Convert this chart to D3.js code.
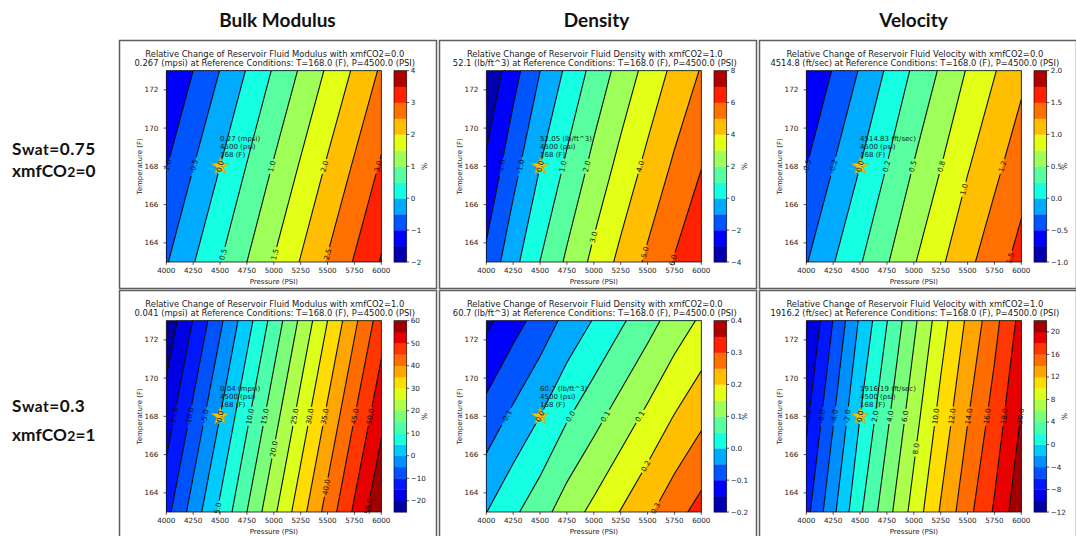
<!DOCTYPE html>
<html>
<head>
<meta charset="utf-8">
<title>Relative change of reservoir fluid properties</title>
<script src="https://cdn.jsdelivr.net/npm/d3@7"></script>
<style>
  html, body { margin: 0; padding: 0; background: #fff; }
  svg { display: block; }
</style>
</head>
<body>
<svg id="fig" width="1076" height="536"></svg>
<script>
// ---- P-T grid on which the relative changes are tabulated ----
const pressureGrid = [4000, 4250, 4500, 4750, 5000, 5250, 5500, 5750, 6000]; // psi
const temperatureGrid = [173, 168, 163];                                      // F, top row first
const pressureTicks = [4000, 4250, 4500, 4750, 5000, 5250, 5500, 5750, 6000];
const temperatureTicks = [164, 166, 168, 170, 172];

const columnTitles = ["Bulk Modulus", "Density", "Velocity"];
const rowSwat = ["0.75", "0.3"];
const rowCO2 = ["0", "1"];

// ---- Bulk modulus, xmfCO2 = 0.0 : % change, rows T=173/168/163 ----
const modulusA = [
  [-1.51, -1.00, -0.49, 0.03, 0.55, 1.06, 1.57, 2.07, 2.57],
  [-1.02, -0.51, 0.00, 0.52, 1.04, 1.55, 2.06, 2.56, 3.06],
  [-0.54, -0.03, 0.48, 1.00, 1.52, 2.03, 2.54, 3.04, 3.54]
];
const modulusALevels = [-2, 4, 0.5];
const modulusATicks = [-2, -1, 0, 1, 2, 3, 4];
const modulusALabelLevels = [-1, -0.5, 0, 0.5, 1, 1.5, 2, 2.5, 3];
const modulusALabelText = ["-1.0", "-0.5", "0.0", "0.5", "1.0", "1.5", "2.0", "2.5", "3.0"];
const modulusALabelTemp = [168, 168, 168, 163.4, 168, 163.4, 168, 163.4, 168];
const modulusATitle = ["Relative Change of Reservoir Fluid Modulus with xmfCO2=0.0",
  "0.267 (mpsi) at Reference Conditions: T=168.0 (F), P=4500.0 (PSI)"];
const modulusANote = ["0.27 (mpsi)", "4500 (psi)", "168 (F)"];

// ---- Density, xmfCO2 = 1.0 ----
const densityA = [
  [-3.87, -2.38, -1.01, 0.19, 1.32, 2.36, 3.33, 4.25, 5.07],
  [-2.82, -1.35, 0.00, 1.18, 2.29, 3.31, 4.26, 5.16, 5.97],
  [-1.77, -0.32, 1.01, 2.17, 3.26, 4.26, 5.19, 6.07, 6.87]
];
const densityALevels = [-4, 8, 1];
const densityATicks = [-4, -2, 0, 2, 4, 6, 8];
const densityALabelLevels = [-2, -1, 0, 1, 2, 3, 4, 5, 6];
const densityALabelText = ["-2.0", "-1.0", "0.0", "1.0", "2.0", "3.0", "4.0", "5.0", "6.0"];
const densityALabelTemp = [168, 168, 168, 168, 168, 164.3, 168, 163.5, 163.1];
const densityATitle = ["Relative Change of Reservoir Fluid Density with xmfCO2=1.0",
  "52.1 (lb/ft^3) at Reference Conditions: T=168.0 (F), P=4500.0 (PSI)"];
const densityANote = ["52.05 (lb/ft^3)", "4500 (psi)", "168 (F)"];

// ---- Velocity, xmfCO2 = 0.0 ----
const velocityA = [
  [-0.745, -0.485, -0.23, 0.03, 0.29, 0.53, 0.77, 0.985, 1.19],
  [-0.505, -0.25, 0.00, 0.255, 0.51, 0.745, 0.98, 1.19, 1.39],
  [-0.265, -0.015, 0.23, 0.48, 0.73, 0.96, 1.19, 1.395, 1.59]
];
const velocityALevels = [-1, 2, 0.25];
const velocityATicks = [-1, -0.5, 0, 0.5, 1, 1.5, 2];
const velocityALabelLevels = [-0.5, -0.25, 0, 0.25, 0.5, 0.75, 1, 1.25, 1.5];
const velocityALabelText = ["-0.5", "-0.2", "0.0", "0.2", "0.5", "0.8", "1.0", "1.2", "1.5"];
const velocityALabelTemp = [168, 168, 168, 168, 168, 168, 166.8, 168, 163.2];
const velocityATitle = ["Relative Change of Reservoir Fluid Velocity with xmfCO2=0.0",
  "4514.8 (ft/sec) at Reference Conditions: T=168.0 (F), P=4500.0 (PSI)"];
const velocityANote = ["4514.83 (ft/sec)", "4500 (psi)", "168 (F)"];

// ---- Bulk modulus, xmfCO2 = 1.0 ----
const modulusB = [
  [-23.6, -14.8, -6.0, 3.0, 12.0, 21.0, 30.0, 38.9, 47.6],
  [-17.6, -8.8, 0.0, 9.0, 18.0, 27.0, 36.0, 44.9, 53.6],
  [-11.6, -2.8, 6.0, 15.0, 24.0, 33.0, 42.0, 50.9, 59.6]
];
const modulusBLevels = [-25, 60, 5];
const modulusBTicks = [-20, -10, 0, 10, 20, 30, 40, 50, 60];
const modulusBLabelLevels = [-15, -10, -5, 0, 5, 10, 15, 20, 25, 30, 35, 40, 45, 50, 55];
const modulusBLabelText = ["-15.0", "-10.0", "-5.0", "0.0", "5.0", "10.0", "15.0", "20.0",
  "25.0", "30.0", "35.0", "40.0", "45.0", "50.0", "55.0"];
const modulusBLabelTemp = [168, 168, 168, 168, 163.2, 168, 168, 166.3, 168, 168, 168, 164.3, 168, 168, 163.3];
const modulusBTitle = ["Relative Change of Reservoir Fluid Modulus with xmfCO2=1.0",
  "0.041 (mpsi) at Reference Conditions: T=168.0 (F), P=4500.0 (PSI)"];
const modulusBNote = ["0.04 (mpsi)", "4500 (psi)", "168 (F)"];

// ---- Density, xmfCO2 = 0.0 ----
const densityB = [
  [-0.161, -0.1195, -0.080, -0.035, 0.003, 0.042, 0.081, 0.122, 0.158],
  [-0.081, -0.0395, 0.000, 0.045, 0.083, 0.122, 0.161, 0.202, 0.238],
  [-0.001, 0.0405, 0.080, 0.125, 0.163, 0.202, 0.241, 0.282, 0.318]
];
const densityBLevels = [-0.2, 0.4, 0.05];
const densityBTicks = [-0.2, -0.1, 0, 0.1, 0.2, 0.3, 0.4];
const densityBLabelLevels = [-0.05, 0, 0.05, 0.1, 0.15, 0.2, 0.25];
const densityBLabelText = ["-0.1", "0.0", "0.0", "0.1", "0.1", "0.2", "0.3"];
const densityBLabelTemp = [168, 168, 168, 168, 168, 165.4, 163.2];
const densityBTitle = ["Relative Change of Reservoir Fluid Density with xmfCO2=0.0",
  "60.7 (lb/ft^3) at Reference Conditions: T=168.0 (F), P=4500.0 (PSI)"];
const densityBNote = ["60.7 (lb/ft^3)", "4500 (psi)", "168 (F)"];

// ---- Velocity, xmfCO2 = 1.0 ----
const velocityB = [
  [-10.23, -5.94, -1.70, 1.94, 5.57, 9.10, 12.37, 15.35, 18.70],
  [-8.43, -4.19, 0.00, 3.59, 7.17, 10.65, 13.87, 16.80, 20.10],
  [-6.63, -2.44, 1.70, 5.24, 8.77, 12.20, 15.37, 18.25, 21.50]
];
const velocityBLevels = [-12, 22, 2];
const velocityBTicks = [-12, -8, -4, 0, 4, 8, 12, 16, 20];
const velocityBLabelLevels = [-8, -6, -4, -2, 0, 2, 4, 6, 8, 10, 12, 14, 16, 18, 20];
const velocityBLabelText = ["-8.0", "-6.0", "-4.0", "-2.0", "0.0", "2.0", "4.0", "6.0", "8.0",
  "10.0", "12.0", "14.0", "16.0", "18.0", "20.0"];
const velocityBLabelTemp = [168, 168, 168, 168, 168, 168, 168, 168, 166.3, 168, 168, 168, 168, 168, 168];
const velocityBTitle = ["Relative Change of Reservoir Fluid Velocity with xmfCO2=1.0",
  "1916.2 (ft/sec) at Reference Conditions: T=168.0 (F), P=4500.0 (PSI)"];
const velocityBNote = ["1916.19 (ft/sec)", "4500 (psi)", "168 (F)"];

// ---- panel table ----
const panels = [
  { col: 0, row: 0, values: modulusA, lev: modulusALevels, ticks: modulusATicks, digits: 0,
    lab: modulusALabelLevels, labText: modulusALabelText, labT: modulusALabelTemp, title: modulusATitle, note: modulusANote },
  { col: 1, row: 0, values: densityA, lev: densityALevels, ticks: densityATicks, digits: 0,
    lab: densityALabelLevels, labText: densityALabelText, labT: densityALabelTemp, title: densityATitle, note: densityANote },
  { col: 2, row: 0, values: velocityA, lev: velocityALevels, ticks: velocityATicks, digits: 1,
    lab: velocityALabelLevels, labText: velocityALabelText, labT: velocityALabelTemp, title: velocityATitle, note: velocityANote },
  { col: 0, row: 1, values: modulusB, lev: modulusBLevels, ticks: modulusBTicks, digits: 0,
    lab: modulusBLabelLevels, labText: modulusBLabelText, labT: modulusBLabelTemp, title: modulusBTitle, note: modulusBNote },
  { col: 1, row: 1, values: densityB, lev: densityBLevels, ticks: densityBTicks, digits: 1,
    lab: densityBLabelLevels, labText: densityBLabelText, labT: densityBLabelTemp, title: densityBTitle, note: densityBNote },
  { col: 2, row: 1, values: velocityB, lev: velocityBLevels, ticks: velocityBTicks, digits: 0,
    lab: velocityBLabelLevels, labText: velocityBLabelText, labT: velocityBLabelTemp, title: velocityBTitle, note: velocityBNote }
];

// ---- matplotlib "jet" colormap ----
function jet(t) {
  const seg = pts => {
    for (let i = 1; i < pts.length; i++) {
      if (t <= pts[i][0]) {
        const [x0, y0] = pts[i - 1], [x1, y1] = pts[i];
        return y0 + (y1 - y0) * (t - x0) / (x1 - x0);
      }
    }
    return pts[pts.length - 1][1];
  };
  const r = seg([[0, 0], [0.35, 0], [0.66, 1], [0.89, 1], [1, 0.5]]);
  const g = seg([[0, 0], [0.125, 0], [0.375, 1], [0.64, 1], [0.91, 0], [1, 0]]);
  const b = seg([[0, 0.5], [0.11, 1], [0.34, 1], [0.65, 0], [1, 0]]);
  return d3.rgb(r * 255, g * 255, b * 255).formatHex();
}

const MPL = "'DejaVu Sans', sans-serif";
const FS = 7.2;
const svg = d3.select("#fig");
const defs = svg.append("defs");

// panel-local layout
const PX0 = 48.3, PX1 = 263.3, PY0 = 32.7, PY1 = 224;
const CB0 = 276, CB1 = 288.7;

const nx = pressureGrid.length, ny = temperatureGrid.length;
const dP = pressureGrid[1] - pressureGrid[0];
const dT = temperatureGrid[0] - temperatureGrid[1];

// bilinear lookup on the tabulated grid (used to place contour labels)
function fieldAt(vals, P, T) {
  const fx = (P - pressureGrid[0]) / dP, fy = (temperatureGrid[0] - T) / dT;
  const i = Math.max(0, Math.min(nx - 2, Math.floor(fx)));
  const j = Math.max(0, Math.min(ny - 2, Math.floor(fy)));
  const u = fx - i, v = fy - j;
  return vals[j][i] * (1 - u) * (1 - v) + vals[j][i + 1] * u * (1 - v) +
         vals[j + 1][i] * (1 - u) * v + vals[j + 1][i + 1] * u * v;
}
function crossing(vals, level, T) {
  let pp = pressureGrid[0], pv = fieldAt(vals, pp, T);
  for (let P = pp + 2; P <= pressureGrid[nx - 1]; P += 2) {
    const v = fieldAt(vals, P, T);
    if ((pv - level) * (v - level) <= 0 && pv !== v) return pp + (level - pv) / (v - pv) * 2;
    pp = P; pv = v;
  }
  return null;
}

const minusFmt = (d, digits) => (d < 0 ? "\u2212" : "") + Math.abs(d).toFixed(digits);

panels.forEach((p, k) => {
  const ox = 118 + 320 * p.col, oy = 38 + 250 * p.row;

  const x = d3.scaleLinear().domain([4000, 6000]).range([PX0, PX1]);
  const y = d3.scaleLinear().domain([163, 173]).range([PY1, PY0]);

  const [lmin, lmax, lstep] = p.lev;
  const nb = Math.round((lmax - lmin) / lstep);
  const levels = d3.range(nb + 1).map(i => +(lmin + i * lstep).toFixed(6));
  const bandColor = i => jet((i + 0.5) / nb);

  // contour polygons on the grid, mapped to pixel space
  const toPx = ([cx, cy]) => [x(pressureGrid[0] + (cx - 0.5) * dP), y(temperatureGrid[0] - (cy - 0.5) * dT)];
  const polys = d3.contours().size([nx, ny]).thresholds(levels.slice(0, -1))(p.values.flat());
  polys.forEach(c => { c.coordinates = c.coordinates.map(poly => poly.map(ring => ring.map(toPx))); });
  const path = d3.geoPath();

  const clipId = `clip${k}`;
  defs.append("clipPath").attr("id", clipId)
    .append("rect").attr("x", ox + PX0).attr("y", oy + PY0).attr("width", PX1 - PX0).attr("height", PY1 - PY0);

  // contour label placement
  const labels = [];
  p.lab.forEach((lv, i) => {
    const T = p.labT[i];
    const P1 = crossing(p.values, lv, T);
    if (P1 === null) return;
    let P2 = crossing(p.values, lv, T + 0.5), T2 = T + 0.5;
    if (P2 === null) { P2 = crossing(p.values, lv, T - 0.5); T2 = T - 0.5; }
    const x1 = x(P1), y1 = y(T), x2 = x(P2), y2 = y(T2);
    let a = Math.atan2(y2 - y1, x2 - x1) * 180 / Math.PI;
    if (a > 90) a -= 180;
    if (a <= -90) a += 180;
    const txt = p.labText[i];
    labels.push({ x: x1, y: y1, a, txt, w: txt.length * FS * 0.58 + 3, h: FS + 1 });
  });

  const maskId = `gap${k}`;
  const mask = defs.append("mask").attr("id", maskId).attr("maskUnits", "userSpaceOnUse")
    .attr("x", 0).attr("y", 0).attr("width", 1076).attr("height", 536);
  mask.append("rect").attr("x", 0).attr("y", 0).attr("width", 1076).attr("height", 536).attr("fill", "#fff");
  labels.forEach(l => mask.append("rect")
    .attr("x", -l.w / 2).attr("y", -l.h / 2).attr("width", l.w).attr("height", l.h)
    .attr("transform", `translate(${ox + l.x},${oy + l.y}) rotate(${l.a})`).attr("fill", "#000"));

  // filled bands + contour lines (clipped to the axes)
  const field = svg.append("g").attr("clip-path", `url(#${clipId})`)
    .append("g").attr("transform", `translate(${ox},${oy})`);
  field.append("g").selectAll("path").data(polys).join("path")
    .attr("d", path).attr("fill", (d, i) => bandColor(i)).attr("stroke", "none");
  const lineLayer = svg.append("g").attr("mask", `url(#${maskId})`)
    .append("g").attr("clip-path", `url(#${clipId})`)
    .append("g").attr("transform", `translate(${ox},${oy})`);
  lineLayer.selectAll("path").data(polys.slice(1)).join("path")
    .attr("d", path).attr("fill", "none").attr("stroke", "#0d0d0d").attr("stroke-width", 1.1);

  // everything else sits above the field
  const g = svg.append("g").attr("transform", `translate(${ox},${oy})`);

  // reference point marker
  const sx = x(4500), sy = y(168);
  g.append("path").attr("d", d3.symbol(d3.symbolStar, 95)())
    .attr("transform", `translate(${sx},${sy})`)
    .attr("fill", "#f3c014").attr("stroke", "#d09a00").attr("stroke-width", 0.7);

  // contour labels
  g.append("g").selectAll("text").data(labels).join("text")
    .attr("transform", l => `translate(${l.x},${l.y}) rotate(${l.a})`)
    .attr("text-anchor", "middle").attr("dy", "0.35em")
    .attr("font-family", MPL).attr("font-size", FS).attr("fill", "#111")
    .text(l => l.txt);

  // reference annotation
  g.append("g").selectAll("text").data(p.note).join("text")
    .attr("x", sx).attr("y", (d, i) => sy - 25.5 + i * 7.9)
    .attr("font-family", MPL).attr("font-size", 7).attr("fill", "#1a1a1a")
    .text(d => d);

  // axes frame
  g.append("rect").attr("x", PX0).attr("y", PY0).attr("width", PX1 - PX0).attr("height", PY1 - PY0)
    .attr("fill", "none").attr("stroke", "#111").attr("stroke-width", 0.8);

  // x axis
  const xa = g.append("g");
  pressureTicks.forEach(t => {
    xa.append("line").attr("x1", x(t)).attr("x2", x(t)).attr("y1", PY1).attr("y2", PY1 + 2.8)
      .attr("stroke", "#111").attr("stroke-width", 0.7);
    xa.append("text").attr("x", x(t)).attr("y", PY1 + 11.3).attr("text-anchor", "middle")
      .attr("font-family", MPL).attr("font-size", FS).attr("fill", "#222").text(t);
  });
  g.append("text").attr("x", (PX0 + PX1) / 2).attr("y", PY1 + 22.3).attr("text-anchor", "middle")
    .attr("font-family", MPL).attr("font-size", 7).attr("fill", "#222").text("Pressure (PSI)");

  // y axis
  const ya = g.append("g");
  temperatureTicks.forEach(t => {
    ya.append("line").attr("x1", PX0 - 2.8).attr("x2", PX0).attr("y1", y(t)).attr("y2", y(t))
      .attr("stroke", "#111").attr("stroke-width", 0.7);
    ya.append("text").attr("x", PX0 - 8).attr("y", y(t)).attr("dy", "0.35em").attr("text-anchor", "end")
      .attr("font-family", MPL).attr("font-size", FS).attr("fill", "#222").text(t);
  });
  g.append("text").attr("transform", `translate(21.7,${(PY0 + PY1) / 2}) rotate(-90)`)
    .attr("text-anchor", "middle").attr("dy", "0.35em")
    .attr("font-family", MPL).attr("font-size", 7).attr("fill", "#222").text("Temperature (F)");

  // titles
  g.append("g").selectAll("text").data(p.title).join("text")
    .attr("x", (PX0 + PX1) / 2 + 1).attr("y", (d, i) => 19.3 + i * 8.8).attr("text-anchor", "middle")
    .attr("font-family", MPL).attr("font-size", 8.4).attr("fill", "#1a1a1a").text(d => d);

  // colorbar
  const yc = d3.scaleLinear().domain([lmin, lmax]).range([PY1, PY0]);
  const cb = g.append("g");
  cb.selectAll("rect").data(d3.range(nb)).join("rect")
    .attr("x", CB0).attr("width", CB1 - CB0)
    .attr("y", i => yc(levels[i + 1])).attr("height", i => yc(levels[i]) - yc(levels[i + 1]) + 0.3)
    .attr("fill", i => bandColor(i));
  cb.append("rect").attr("x", CB0).attr("y", PY0).attr("width", CB1 - CB0).attr("height", PY1 - PY0)
    .attr("fill", "none").attr("stroke", "#111").attr("stroke-width", 0.7);
  p.ticks.forEach(t => {
    cb.append("line").attr("x1", CB1).attr("x2", CB1 + 2.5).attr("y1", yc(t)).attr("y2", yc(t))
      .attr("stroke", "#111").attr("stroke-width", 0.7);
    cb.append("text").attr("x", CB1 + 4).attr("y", yc(t)).attr("dy", "0.35em")
      .attr("font-family", MPL).attr("font-size", FS).attr("fill", "#222").text(minusFmt(t, p.digits));
  });
  g.append("text").attr("transform", `translate(306,${(PY0 + PY1) / 2}) rotate(-90)`)
    .attr("text-anchor", "middle").attr("dy", "0.35em")
    .attr("font-family", MPL).attr("font-size", 7.5).attr("fill", "#222").text("%");

  // panel frame
  g.append("rect").attr("x", 1.5).attr("y", 2.5).attr("width", 317).attr("height", 248)
    .attr("fill", "none").attr("stroke", "#5e5e5e").attr("stroke-width", 1.5);
});

// column headings
const headX = [277.5, 596.5, 913.5];
svg.append("g").selectAll("text").data(columnTitles).join("text")
  .attr("x", (d, i) => headX[i]).attr("y", 27).attr("text-anchor", "middle")
  .attr("font-family", "Lato, 'Open Sans', sans-serif").attr("font-weight", 700)
  .attr("font-size", 19).attr("fill", "#111").text(d => d);

// row headings
const rowBase = [[155, 176.7], [411.7, 440.5]];
rowSwat.forEach((s, r) => {
  const t1 = svg.append("text").attr("x", 12).attr("y", rowBase[r][0]).attr("letter-spacing", 0.5)
    .attr("font-family", "Lato, 'Open Sans', sans-serif").attr("font-weight", 700).attr("fill", "#111");
  t1.append("tspan").attr("font-size", 17.2).text("S");
  t1.append("tspan").attr("font-size", 15.5).text("wat");
  t1.append("tspan").attr("font-size", 17.2).text("=" + s);
  const t2 = svg.append("text").attr("x", 12).attr("y", rowBase[r][1]).attr("letter-spacing", 0.15)
    .attr("font-family", "Lato, 'Open Sans', sans-serif").attr("font-weight", 700).attr("fill", "#111");
  t2.append("tspan").attr("font-size", 17.2).text("xmfCO");
  t2.append("tspan").attr("font-size", 14).text("2");
  t2.append("tspan").attr("font-size", 17.2).text("=" + rowCO2[r]);
});
</script>
</body>
</html>
